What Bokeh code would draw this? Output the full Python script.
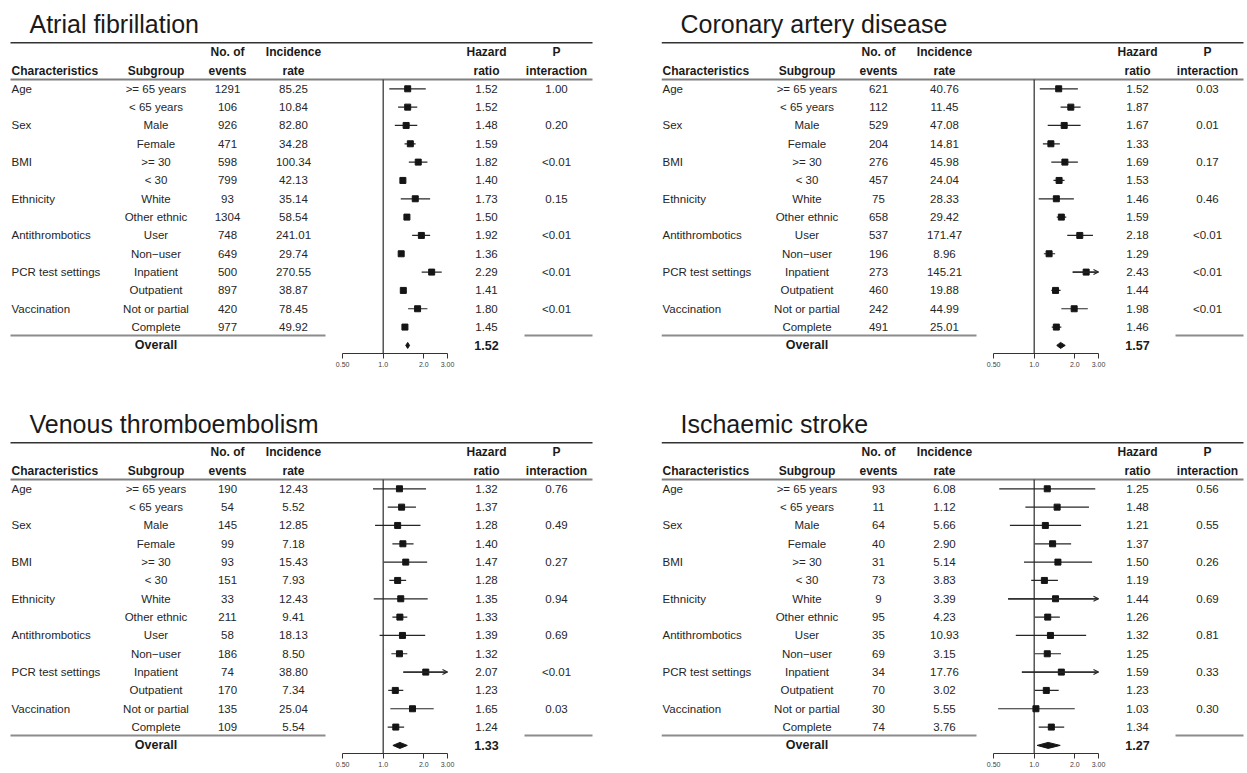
import numpy as np
from bokeh.plotting import figure
from bokeh.models import (Range1d, LogScale, LogAxis, FixedTicker, ColumnDataSource,
                          Arrow, OpenHead)
from bokeh.layouts import column, row
from bokeh.embed import file_html
from bokeh.resources import INLINE
from bokeh.core.properties import value

# ---------------- data ----------------
titles = ["Atrial fibrillation", "Coronary artery disease",
          "Venous thromboembolism", "Ischaemic stroke"]
characteristics = ["Age", "Sex", "BMI", "Ethnicity", "Antithrombotics",
                   "PCR test settings", "Vaccination"]
subgroups = [">= 65 years", "< 65 years", "Male", "Female", ">= 30", "< 30",
             "White", "Other ethnic", "User", "Non\u2212user", "Inpatient",
             "Outpatient", "Not or partial", "Complete"]
header_top = ["No. of", "Incidence", "Hazard", "P"]
header_bottom = ["Characteristics", "Subgroup", "events", "rate", "ratio", "interaction"]
tick_vals = [0.5, 1.0, 2.0, 3.0]
tick_labels = ["0.50", "1.0", "2.0", "3.00"]

af_events = [1291, 106, 926, 471, 598, 799, 93, 1304, 748, 649, 500, 897, 420, 977]
af_rate = ["85.25", "10.84", "82.80", "34.28", "100.34", "42.13", "35.14", "58.54",
           "241.01", "29.74", "270.55", "38.87", "78.45", "49.92"]
af_hr = [1.52, 1.52, 1.48, 1.59, 1.82, 1.40, 1.73, 1.50, 1.92, 1.36, 2.29, 1.41, 1.80, 1.45]
af_lo = [1.11, 1.29, 1.22, 1.44, 1.55, 1.35, 1.35, 1.45, 1.64, 1.31, 1.93, 1.36, 1.53, 1.40]
af_hi = [2.07, 1.79, 1.79, 1.74, 2.13, 1.46, 2.23, 1.56, 2.23, 1.41, 2.72, 1.46, 2.13, 1.51]
af_p = ["1.00", "0.20", "<0.01", "0.15", "<0.01", "<0.01", "<0.01"]
af_overall = [1.52, 1.47, 1.57]

cad_events = [621, 112, 529, 204, 276, 457, 75, 658, 537, 196, 273, 460, 242, 491]
cad_rate = ["40.76", "11.45", "47.08", "14.81", "45.98", "24.04", "28.33", "29.42",
            "171.47", "8.96", "145.21", "19.88", "44.99", "25.01"]
cad_hr = [1.52, 1.87, 1.67, 1.33, 1.69, 1.53, 1.46, 1.59, 2.18, 1.29, 2.43, 1.44, 1.98, 1.46]
cad_lo = [1.10, 1.57, 1.26, 1.16, 1.34, 1.39, 1.08, 1.47, 1.76, 1.18, 1.93, 1.34, 1.59, 1.35]
cad_hi = [2.11, 2.21, 2.21, 1.55, 2.11, 1.68, 1.97, 1.73, 2.73, 1.43, 3.10, 1.57, 2.50, 1.59]
cad_p = ["0.03", "0.01", "0.17", "0.46", "<0.01", "<0.01", "<0.01"]
cad_overall = [1.57, 1.47, 1.70]

vte_events = [190, 54, 145, 99, 93, 151, 33, 211, 58, 186, 74, 170, 135, 109]
vte_rate = ["12.43", "5.52", "12.85", "7.18", "15.43", "7.93", "12.43", "9.41",
            "18.13", "8.50", "38.80", "7.34", "25.04", "5.54"]
vte_hr = [1.32, 1.37, 1.28, 1.40, 1.47, 1.28, 1.35, 1.33, 1.39, 1.32, 2.07, 1.23, 1.65, 1.24]
vte_lo = [0.84, 1.08, 0.87, 1.17, 1.01, 1.11, 0.85, 1.17, 0.94, 1.15, 1.41, 1.09, 1.13, 1.08]
vte_hi = [2.08, 1.75, 1.89, 1.68, 2.12, 1.48, 2.14, 1.51, 2.05, 1.51, 3.10, 1.41, 2.37, 1.43]
vte_p = ["0.76", "0.49", "0.27", "0.94", "0.69", "<0.01", "0.03"]
vte_overall = [1.33, 1.18, 1.51]

is_events = [93, 11, 64, 40, 31, 73, 9, 95, 35, 69, 34, 70, 30, 74]
is_rate = ["6.08", "1.12", "5.66", "2.90", "5.14", "3.83", "3.39", "4.23",
           "10.93", "3.15", "17.76", "3.02", "5.55", "3.76"]
is_hr = [1.25, 1.48, 1.21, 1.37, 1.50, 1.19, 1.44, 1.26, 1.32, 1.25, 1.59, 1.23, 1.03, 1.34]
is_lo = [0.55, 0.86, 0.66, 1.01, 0.84, 0.95, 0.64, 1.01, 0.73, 1.01, 0.81, 1.01, 0.54, 1.08]
is_hi = [2.84, 2.55, 2.23, 1.88, 2.69, 1.50, 3.20, 1.55, 2.43, 1.58, 3.20, 1.52, 2.00, 1.67]
is_p = ["0.56", "0.55", "0.26", "0.69", "0.81", "0.33", "0.30"]
is_overall = [1.27, 1.05, 1.56]

# ---------------- layout constants ----------------
FONT = value("Liberation Sans")
ROW0, PITCH = 88.3, 18.33          # y of first row, row pitch (px)
SCALE = 58.5                        # px per ln(HR)
REF_X = 372.7                       # local x of HR = 1
XMAX = tick_vals[-1]
TABLE_W = 582
COL_CHAR, COL_SUB, COL_EV, COL_RATE, COL_HR, COL_P = 1, 145.5, 217, 283, 476, 546
FRAME_H = 353
Y_TITLE, Y_TOP, Y_H1, Y_H2, Y_UNDER, Y_SEP = 23, 42.3, 51.7, 70.7, 79, 335
BODY = "11.5px"
HEAD = "12px"


def add_text(p, xs, ys, texts, align="center", bold=False, size=BODY,
             color="#262626", baseline="middle"):
    src = ColumnDataSource(dict(x=xs, y=ys, t=texts))
    p.text(x="x", y="y", text="t", source=src, text_align=align,
           text_baseline=baseline, text_font=FONT, text_font_size=size,
           text_font_style="bold" if bold else "normal", text_color=color)


def make_panel(title, events, rates, hr, lo, hi, pvals, overall, x0, x1, bottom):
    p = figure(frame_width=int(x1 - x0), frame_height=FRAME_H,
               x_range=Range1d(x0, x1), y_range=Range1d(FRAME_H, 0),
               x_axis_type=None, y_axis_type=None, toolbar_location=None,
               output_backend="svg", min_border_left=0, min_border_right=0,
               min_border_top=0, min_border_bottom=bottom,
               outline_line_color=None, background_fill_color="white",
               border_fill_color="white")
    p.extra_x_ranges = {"hr": Range1d(float(np.exp((x0 - REF_X) / SCALE)),
                                      float(np.exp((x1 - REF_X) / SCALE)))}
    p.extra_x_scales = {"hr": LogScale()}

    n = len(subgroups)
    ys = [ROW0 + PITCH * i for i in range(n)]
    y_over = ROW0 + PITCH * n

    # title
    add_text(p, [19], [Y_TITLE], [title], align="left", size="25px", color="#1a1a1a")

    # rules
    p.segment(x0=[0], y0=[Y_TOP], x1=[TABLE_W], y1=[Y_TOP], line_color="#333333", line_width=1.5)
    p.segment(x0=[0], y0=[Y_UNDER], x1=[TABLE_W], y1=[Y_UNDER], line_color="#7f7f7f", line_width=2)
    p.segment(x0=[0, 514], y0=[Y_SEP, Y_SEP], x1=[315, TABLE_W], y1=[Y_SEP, Y_SEP],
              line_color="#8c8c8c", line_width=2)

    # headers
    add_text(p, [COL_EV, COL_RATE, COL_HR, COL_P], [Y_H1] * 4, header_top,
             bold=True, size=HEAD, color="#1a1a1a")
    add_text(p, [COL_CHAR], [Y_H2], header_bottom[:1], align="left", bold=True,
             size=HEAD, color="#1a1a1a")
    add_text(p, [COL_SUB, COL_EV, COL_RATE, COL_HR, COL_P], [Y_H2] * 5,
             header_bottom[1:], bold=True, size=HEAD, color="#1a1a1a")

    # body
    add_text(p, [COL_CHAR] * len(characteristics), ys[0::2], characteristics, align="left")
    add_text(p, [COL_SUB] * n, ys, subgroups)
    add_text(p, [COL_EV] * n, ys, [str(e) for e in events])
    add_text(p, [COL_RATE] * n, ys, rates)
    add_text(p, [COL_HR] * n, ys, [f"{v:.2f}" for v in hr])
    add_text(p, [COL_P] * len(pvals), ys[0::2], pvals)
    add_text(p, [COL_SUB], [y_over], ["Overall"], bold=True, size="12.5px", color="#1a1a1a")
    add_text(p, [COL_HR], [y_over], [f"{overall[0]:.2f}"], bold=True, size="12.5px",
             color="#1a1a1a")

    # forest
    p.segment(x0=[1.0], y0=[Y_UNDER], x1=[1.0], y1=[FRAME_H], x_range_name="hr",
              line_color="#3a3a3a", line_width=1.3)
    hi_clip = [min(h, XMAX) for h in hi]
    p.segment(x0=lo, y0=ys, x1=hi_clip, y1=ys, x_range_name="hr",
              line_color="#262626", line_width=1.2)
    for l, h, y in zip(lo, hi, ys):
        if h > XMAX:
            p.add_layout(Arrow(end=OpenHead(size=5, line_width=1.1, line_color="#262626"),
                               x_start=l, x_end=XMAX, y_start=y, y_end=y,
                               x_range_name="hr", line_color="#262626", line_width=1.2))
    p.scatter(x=hr, y=ys, marker="square", size=6, color="#151515", x_range_name="hr")
    est, olo, ohi = overall
    p.patch(x=[olo, est, ohi, est], y=[y_over, y_over - 3, y_over, y_over + 3],
            x_range_name="hr", color="#151515")

    ax = LogAxis(x_range_name="hr", bounds=(tick_vals[0], tick_vals[-1]),
                 ticker=FixedTicker(ticks=tick_vals, minor_ticks=[]),
                 major_label_overrides=dict(zip(tick_vals, tick_labels)))
    ax.axis_line_color = "#333333"
    ax.major_tick_line_color = "#333333"
    ax.major_tick_out = 5
    ax.major_tick_in = 0
    ax.minor_tick_out = 0
    ax.minor_tick_in = 0
    ax.major_label_text_font_size = "7px"
    ax.major_label_text_font = "Liberation Sans"
    ax.major_label_text_color = "#404040"
    ax.major_label_standoff = 3
    p.add_layout(ax, "below")
    return p


p1 = make_panel(titles[0], af_events, af_rate, af_hr, af_lo, af_hi, af_p, af_overall, -10, 651, 47)
p2 = make_panel(titles[1], cad_events, cad_rate, cad_hr, cad_lo, cad_hi, cad_p, cad_overall, 0, 586, 47)
p3 = make_panel(titles[2], vte_events, vte_rate, vte_hr, vte_lo, vte_hi, vte_p, vte_overall, -10, 651, 18)
p4 = make_panel(titles[3], is_events, is_rate, is_hr, is_lo, is_hi, is_p, is_overall, 0, 586, 18)

layout = column(row(p1, p2), row(p3, p4))
open("out.html", "w").write(file_html(layout, INLINE))
